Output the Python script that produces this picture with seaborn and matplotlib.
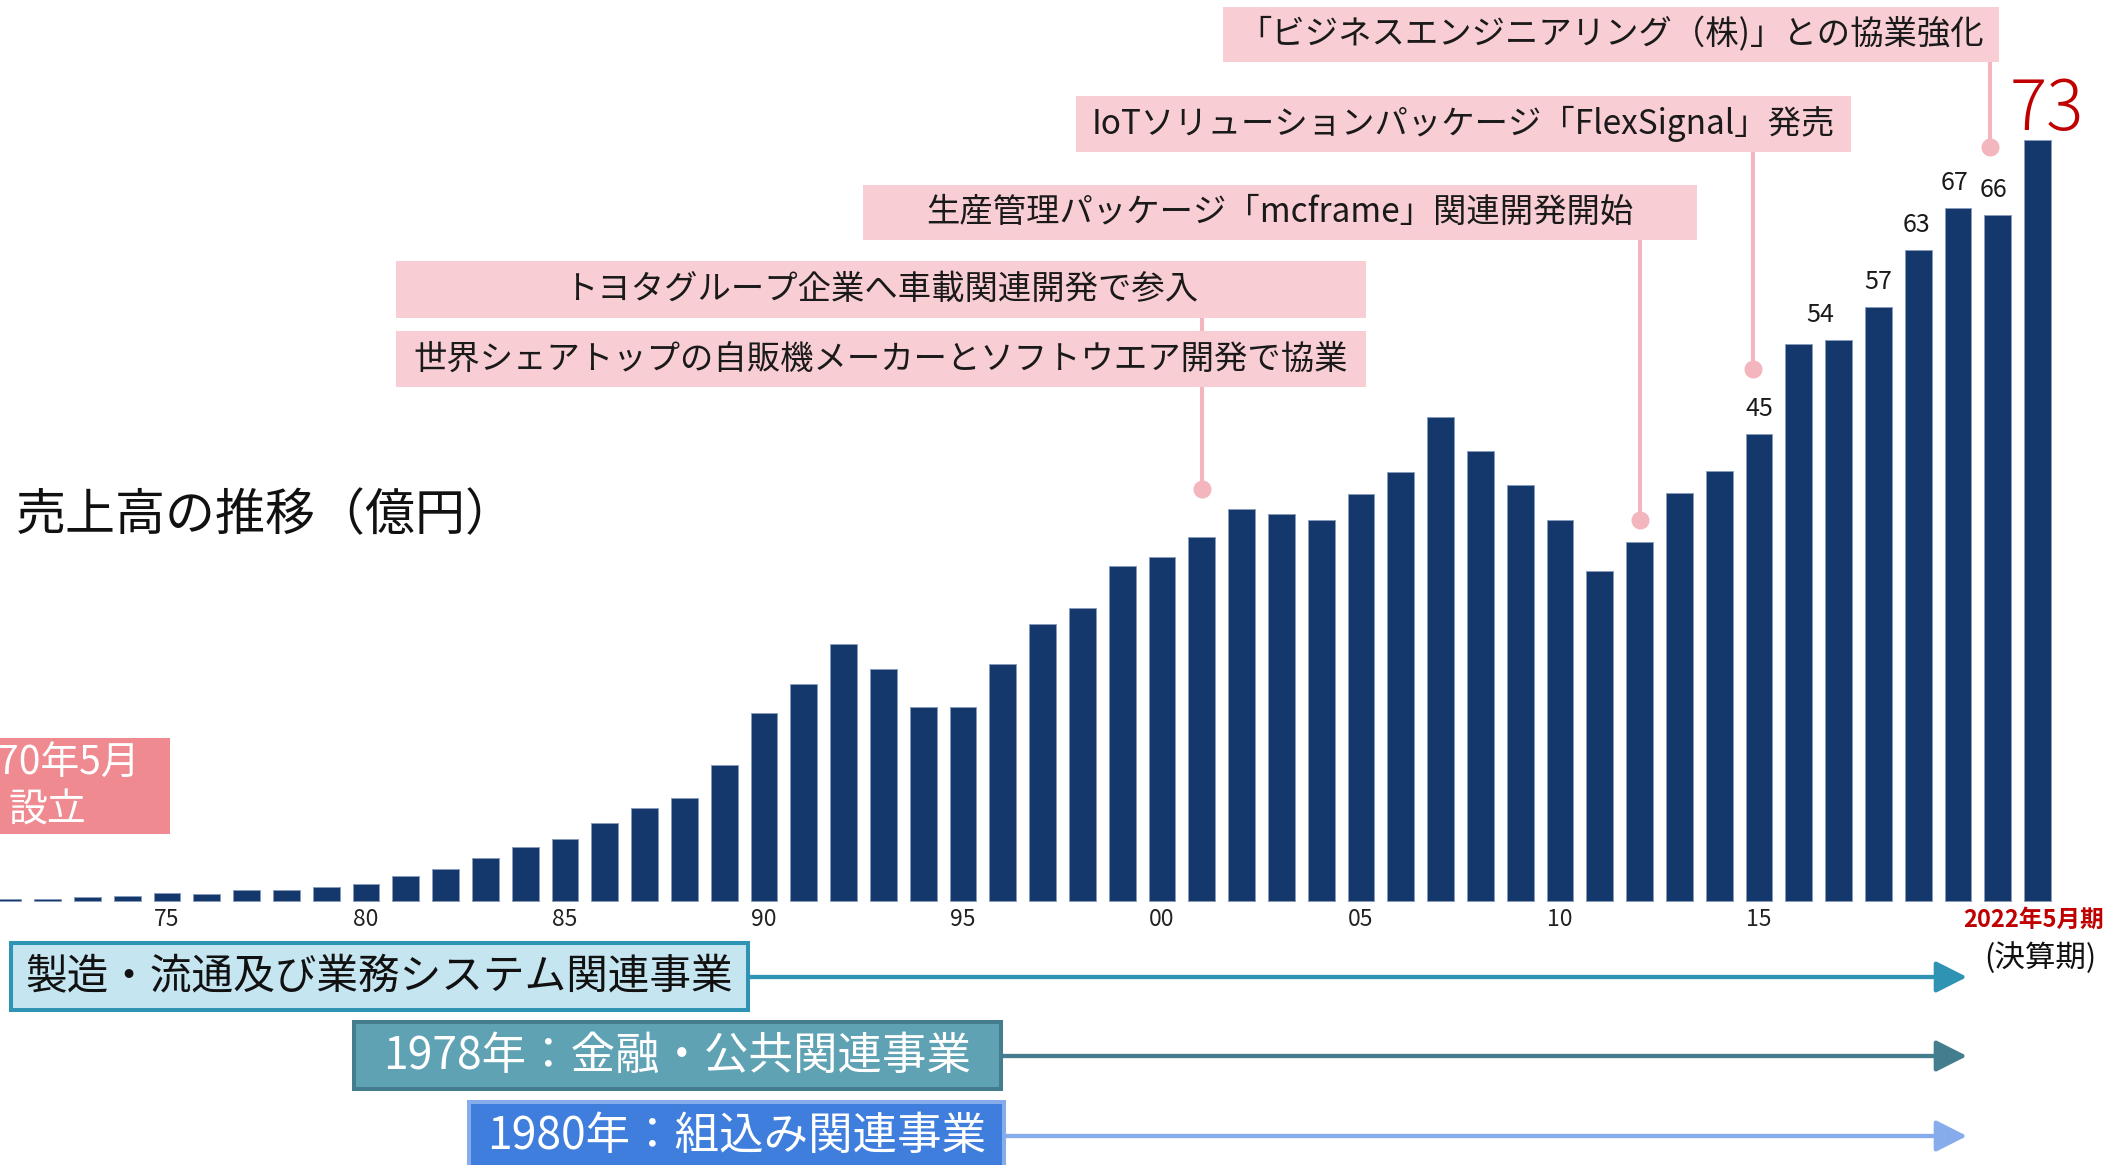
import matplotlib
matplotlib.use("Agg")
import matplotlib.pyplot as plt
import matplotlib.transforms as mtransforms
from matplotlib.patches import Rectangle
import seaborn as sns
import pandas as pd

# ---------------- data ----------------
years = list(range(1971, 2023))
sales = [0.1, 0.15, 0.3, 0.4, 0.7, 0.6, 1.0, 1.0, 1.35, 1.6,
         2.35, 3.0, 4.15, 5.2, 5.9, 7.5, 8.9, 9.9, 13.1, 18.1,
         20.9, 24.8, 22.3, 18.7, 18.7, 22.8, 26.7, 28.2, 32.3, 33.2,
         35.1, 37.8, 37.3, 36.7, 39.2, 41.4, 46.7, 43.4, 40.1, 36.7,
         31.8, 34.6, 39.3, 41.5, 45.0, 53.7, 54.1, 57.3, 62.8, 66.8,
         66.2, 73.4]

tick_years = [1975, 1980, 1985, 1990, 1995, 2000, 2005, 2010, 2015]
tick_labels = ["75", "80", "85", "90", "95", "00", "05", "10", "15"]

labeled_years = [2015, 2017, 2018, 2019, 2020, 2021]
latest_year = 2022
latest_label = "2022年5月期"
period_note = "(決算期)"

title = "売上高の推移（億円）"
founding = "1970年5月\n設立"

events = [
    "世界シェアトップの自販機メーカーとソフトウエア開発で協業",
    "トヨタグループ企業へ車載関連開発で参入",
    "生産管理パッケージ「mcframe」関連開発開始",
    "IoTソリューションパッケージ「FlexSignal」発売",
    "「ビジネスエンジニアリング（株)」との協業強化",
]
event_years = [2001, 2001, 2012, 2015, 2021]

businesses = [
    "製造・流通及び業務システム関連事業",
    "1978年：金融・公共関連事業",
    "1980年：組込み関連事業",
]

# ---------------- style / layout ----------------
sns.set_style("white")
plt.rcParams["font.family"] = ["Noto Sans CJK JP", "DejaVu Sans"]

W, H = 2112, 1165
fig = plt.figure(figsize=(W / 100, H / 100), dpi=100)
ax = fig.add_axes([0, 0, 1, 1])
PX = mtransforms.Affine2D().scale(1 / W, -1 / H).translate(0, 1) + fig.transFigure

BAR = "#14386C"
df = pd.DataFrame({"year": years, "sales": sales})
sns.barplot(data=df, x="year", y="sales", native_scale=True, width=0.67,
            color=BAR, saturation=1, edgecolor="#8a9cbc", linewidth=0.7,
            errorbar=None, ax=ax, zorder=2)

ax.set_xlim(1970.804, 2023.869)
ax.set_ylim(-25.53, 86.92)
ax.set_xlabel("")
ax.set_ylabel("")
for s in ax.spines.values():
    s.set_visible(False)
ax.spines["bottom"].set_position(("data", 0))
ax.set_yticks([])
ax.set_xticks(tick_years)
ax.set_xticklabels(tick_labels)
ax.tick_params(axis="x", length=0, pad=5.5, labelsize=16.5, labelcolor="#222222")

# value labels
label_dx = [0, -0.45, 0, -0.05, -0.1, -0.1]
for yr, dx in zip(labeled_years, label_dx):
    v = sales[years.index(yr)]
    ax.annotate(f"{v:.0f}", xy=(yr + dx, v), xytext=(0, 13),
                textcoords="offset points", ha="center", va="baseline",
                fontsize=18, color="#1a1a1a", zorder=5)

v_last = sales[years.index(latest_year)]
ax.annotate(f"{v_last:.0f}", xy=(latest_year + 0.22, v_last), xytext=(0, 7),
            textcoords="offset points", ha="center", va="baseline",
            fontsize=50, color="#C00000", fontweight="light", zorder=5)

ax.annotate(latest_label, xy=(latest_year - 0.1, 0), xytext=(0, -5.5),
            textcoords="offset points", ha="center", va="top",
            fontsize=17, fontweight="bold", color="#C00000", zorder=5)
ax.text(2040, 958, period_note, transform=PX, ha="center", va="center",
        fontsize=22, color="#111111")

# title
ax.text(16, 516, title, transform=PX, ha="left", va="center", fontsize=36,
        color="#111111")

# founding box (clipped at the left edge as in the original)
ax.add_patch(Rectangle((-10, 738), 180, 96, transform=PX,
                       facecolor="#EF8A91", edgecolor="none", zorder=3))
ax.text(47, 787, founding, transform=PX, ha="center", va="center",
        multialignment="center", fontsize=28, color="white", linespacing=1.2,
        zorder=4)

# event callouts
PINK_BOX = "#F8CED4"
PINK_LINE = "#F4B6BE"
blend = mtransforms.blended_transform_factory(ax.transData, PX)
boxes = [(396, 331, 1366, 387), (396, 261, 1366, 318), (863, 185, 1697, 240),
         (1076, 96, 1851, 152), (1223, 7, 1999, 62)]
line_dx = [0, 0, 0, -0.15, -0.2]
dot_py = [489, 489, 520, 369, 147]
drawn = set()
for i, (txt, yr) in enumerate(zip(events, event_years)):
    x0, y0, x1, y1 = boxes[i]
    ax.add_patch(Rectangle((x0, y0), x1 - x0, y1 - y0, transform=PX,
                           facecolor=PINK_BOX, edgecolor="none", zorder=3))
    ax.text((x0 + x1) / 2, (y0 + y1) / 2, txt, transform=PX, ha="center",
            va="center", fontsize=24, color="#1a1a1a", zorder=4)
for i, yr in enumerate(event_years):
    key = (yr, dot_py[i])
    if key in drawn:
        continue
    drawn.add(key)
    bottoms = [boxes[j][3] for j in range(len(events))
               if event_years[j] == yr]
    top_bottom = min(bottoms)
    x = yr + line_dx[i]
    ax.plot([x, x], [top_bottom, dot_py[i]], transform=blend, color=PINK_LINE,
            lw=2.9, solid_capstyle="butt", zorder=2.5)
    ax.plot([x], [dot_py[i]], "o", transform=blend, color=PINK_LINE, ms=12,
            zorder=2.5)

# business lines
bboxes = [(11, 943, 748, 1010), (354, 1022, 1001, 1089), (469, 1102, 1004, 1180)]
fills = ["#C5E5F0", "#5FA2B4", "#3F7EDD"]
edges = ["#2F93B4", "#447E8E", "#86ACEB"]
tcols = ["#111111", "white", "white"]
tsizes = [30, 32, 32]
ys = [977, 1056, 1136]
for (x0, y0, x1, y1), fc, ec, tc, fs, yy, txt in zip(bboxes, fills, edges, tcols,
                                                   tsizes, ys, businesses):
    ax.annotate("", xy=(1967, yy), xytext=(x1, yy), xycoords=PX, textcoords=PX,
                arrowprops=dict(arrowstyle="-|>,head_length=0.95,head_width=0.48",
                                mutation_scale=20, lw=3.1, color=ec,
                                shrinkA=0, shrinkB=0), zorder=2)
    ax.add_patch(Rectangle((x0, y0), x1 - x0, y1 - y0, transform=PX,
                           facecolor=fc, edgecolor=ec, lw=2.9, zorder=3))
    ax.text((x0 + x1) / 2, yy, txt, transform=PX, ha="center", va="center",
            fontsize=fs, color=tc, zorder=4)

fig.savefig("out.png", dpi=100)
